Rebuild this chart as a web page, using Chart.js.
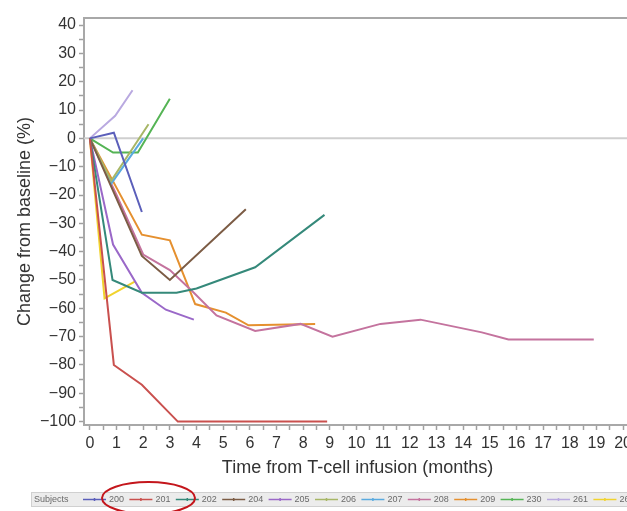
<!DOCTYPE html>
<html>
<head>
<meta charset="utf-8">
<script src="https://cdn.jsdelivr.net/npm/chart.js@4.4.1/dist/chart.umd.min.js"></script>
<style>
  html, body { margin: 0; padding: 0; background: #fff; overflow: hidden; }
  #wrap { width: 627px; height: 511px; overflow: hidden; position: relative; }
  canvas { display: block; }
</style>
</head>
<body>
<div id="wrap"><canvas id="c" width="636" height="511"></canvas></div>
<script>
// Subject IDs
const subjects = ['200', '201', '202', '204', '205', '206', '207', '208', '209', '230', '261', '262'];

// Months after T-cell infusion and % change from baseline, one pair per subject
const months200 = [0, 0.9, 1.95];
const change200 = [0, 2, -26];
const months201 = [0, 0.9, 1.95, 3.3, 8.9];
const change201 = [0, -80, -87, -100, -100];
const months202 = [0, 0.85, 1.95, 3.25, 4.0, 6.2, 8.8];
const change202 = [0, -50, -54.5, -54.5, -53, -45.5, -27];
const months204 = [0, 1.95, 3.0, 5.85];
const change204 = [0, -41.5, -50, -25];
const months205 = [0, 0.87, 1.95, 2.85, 3.9];
const change205 = [0, -37.5, -54.5, -60.5, -64];
const months206 = [0, 0.8, 2.2];
const change206 = [0, -15, 5];
const months207 = [0, 0.8, 2.0];
const change207 = [0, -16, 0];
const months208 = [0, 1, 2, 3, 3.9, 4.75, 6.2, 7.9, 9.1, 10.9, 12.4, 14.7, 15.7, 18.9];
const change208 = [0, -20, -41, -46.5, -54.5, -62.5, -68, -65.5, -70, -65.5, -64, -68.5, -71, -71];
const months209 = [0, 1.95, 3.0, 3.95, 5.1, 5.95, 8.45];
const change209 = [0, -34, -36, -58.5, -61.5, -66, -65.5];
const months230 = [0, 0.87, 1.8, 3.0];
const change230 = [0, -5, -5, 14];
const months261 = [0, 0.95, 1.6];
const change261 = [0, 8, 17];
const months262 = [0, 0.55, 1.7];
const change262 = [0, -56.5, -50.5];

const seriesMonths = [months200, months201, months202, months204, months205, months206,
                      months207, months208, months209, months230, months261, months262];
const seriesChange = [change200, change201, change202, change204, change205, change206,
                      change207, change208, change209, change230, change261, change262];

const subjectColors = ['#5b5fba', '#c9504e', '#35897a', '#7c5c45', '#9a68c8', '#a7b666',
                       '#5aaadf', '#c4739e', '#e5902f', '#55b455', '#b9a9e0', '#f1d32e'];

const datasets = subjects.map((id, i) => ({
  label: id,
  data: seriesMonths[i].map((m, k) => ({ x: m, y: seriesChange[i][k] })),
  borderColor: subjectColors[i],
  backgroundColor: subjectColors[i],
  borderWidth: 2,
  pointRadius: 0,
  tension: 0,
  fill: false
}));

const FONT = 'Liberation Sans, Arial, sans-serif';
const TXT = '#333';

// Frame top line, zero reference line, and the bottom subject key
const decorations = {
  id: 'decorations',
  beforeDatasetsDraw(chart) {
    const { ctx, chartArea, scales } = chart;
    ctx.save();
    const y0 = scales.y.getPixelForValue(0);
    ctx.strokeStyle = '#cfcfcf';
    ctx.lineWidth = 2;
    ctx.beginPath();
    ctx.moveTo(chartArea.left, y0);
    ctx.lineTo(chart.width, y0);
    ctx.stroke();
    ctx.restore();
  },
  afterDraw(chart) {
    const { ctx, chartArea } = chart;
    ctx.save();
    ctx.strokeStyle = '#a8a8a8';
    ctx.lineWidth = 2;
    ctx.beginPath();
    ctx.moveTo(chartArea.left - 1, chartArea.top);
    ctx.lineTo(chart.width, chartArea.top);
    ctx.stroke();

    // key band
    const bandTop = 492, bandH = 15, cy = bandTop + bandH / 2;
    ctx.fillStyle = '#ececec';
    ctx.fillRect(31, bandTop, chart.width - 31, bandH);
    ctx.strokeStyle = '#d0d0d0';
    ctx.lineWidth = 1;
    ctx.strokeRect(31.5, bandTop + 0.5, chart.width, bandH - 1);

    ctx.font = '9px ' + FONT;
    ctx.textBaseline = 'middle';
    ctx.textAlign = 'left';
    ctx.fillStyle = '#6a6a6a';
    ctx.fillText('Subjects', 34, cy);

    subjects.forEach((id, i) => {
      const x0 = 83 + i * 46.4;
      ctx.strokeStyle = subjectColors[i];
      ctx.lineWidth = 1.5;
      ctx.beginPath();
      ctx.moveTo(x0, cy);
      ctx.lineTo(x0 + 23, cy);
      ctx.moveTo(x0 + 11.5, cy - 1.5);
      ctx.lineTo(x0 + 11.5, cy + 1.5);
      ctx.stroke();
      ctx.fillStyle = '#6a6a6a';
      ctx.fillText(id, x0 + 26, cy);
    });

    // highlight ring around the first two subjects
    ctx.strokeStyle = '#c4161c';
    ctx.lineWidth = 2;
    ctx.beginPath();
    ctx.ellipse(148.5, 498, 46.5, 16, 0, 0, Math.PI * 2);
    ctx.stroke();
    ctx.restore();
  }
};

new Chart(document.getElementById('c'), {
  type: 'line',
  data: { datasets },
  plugins: [decorations],
  options: {
    responsive: false,
    animation: false,
    layout: { padding: { top: 18, bottom: 28, right: 0, left: 0 } },
    plugins: { legend: { display: false }, tooltip: { enabled: false } },
    scales: {
      x: {
        type: 'linear',
        min: -0.22,
        max: 20.3,
        afterBuildTicks: (scale) => {
          const t = [];
          for (let v = 0; v <= 20; v += 0.5) t.push({ value: v });
          scale.ticks = t;
        },
        afterFit: (scale) => { scale.height = 58; },
        ticks: {
          autoSkip: false,
          maxRotation: 0,
          padding: 4,
          color: TXT,
          font: { family: FONT, size: 16 },
          callback: (v) => (Number.isInteger(v) ? String(v) : '')
        },
        grid: { drawOnChartArea: false, drawTicks: true, tickLength: 5, tickColor: '#a0a0a0', tickWidth: 1.5 },
        border: { display: true, color: '#a8a8a8', width: 2 },
        title: {
          display: true,
          text: 'Time from T-cell infusion (months)',
          color: TXT,
          font: { family: FONT, size: 18 },
          padding: { top: 0, bottom: 4 }
        }
      },
      y: {
        type: 'linear',
        min: -101.2,
        max: 42.5,
        afterBuildTicks: (scale) => {
          const t = [];
          for (let v = -100; v <= 40; v += 5) t.push({ value: v });
          scale.ticks = t;
        },
        afterFit: (scale) => { scale.width = 84; },
        ticks: {
          autoSkip: false,
          padding: 3,
          color: TXT,
          font: { family: FONT, size: 16 },
          callback: (v) => (v % 10 === 0 ? (v < 0 ? '\u2212' + Math.abs(v) : String(v)) : '')
        },
        grid: { drawOnChartArea: false, drawTicks: true, tickLength: 5, tickColor: '#a0a0a0', tickWidth: 1.5 },
        border: { display: true, color: '#a8a8a8', width: 2 },
        title: {
          display: true,
          text: 'Change from baseline (%)',
          color: TXT,
          font: { family: FONT, size: 18 },
          padding: { top: 14, bottom: 0 }
        }
      }
    }
  }
});
</script>
</body>
</html>
